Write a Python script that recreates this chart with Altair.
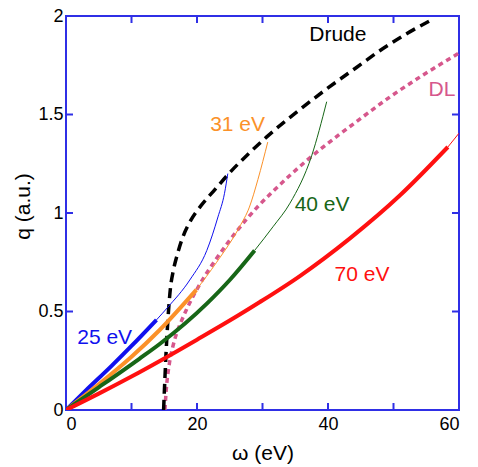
import altair as alt
import pandas as pd

# ---- data ----
series_names = ["25 eV", "31 eV", "40 eV", "70 eV", "Drude", "DL"]
series_colors = ["#1010ee", "#fb9129", "#176617", "#ff1010", "#000000", "#d6578c"]

# thick (solid) parts
b25_x = [0, 3, 7, 10, 13.8]
b25_y = [0, 0.098, 0.225, 0.325, 0.457]
o31_x = [0, 5, 10, 14.3, 19.9]
o31_y = [0, 0.13, 0.27, 0.406, 0.61]
g40_x = [0, 5, 11.2, 14.3, 21.5, 25, 28.8]
g40_y = [0, 0.115, 0.26, 0.335, 0.54, 0.66, 0.81]
r70_x = [0, 5, 10, 14.8, 20, 26.2, 29.6, 35.7, 43.3, 51, 58.3]
r70_y = [0, 0.083, 0.17, 0.258, 0.357, 0.478, 0.548, 0.68, 0.87, 1.09, 1.335]

# thin continuations
b25t_x = [13.8, 15.5, 18.9, 21.5, 23.2, 24.2, 24.7]
b25t_y = [0.457, 0.52, 0.66, 0.81, 0.98, 1.10, 1.20]
o31t_x = [19.9, 23, 26.5, 28, 29.3, 30.8]
o31t_y = [0.61, 0.75, 0.93, 1.03, 1.17, 1.36]
g40t_x = [28.8, 31.6, 34.2, 37.5, 39.8]
g40t_y = [0.81, 0.93, 1.05, 1.29, 1.565]
r70t_x = [58.3, 60]
r70t_y = [1.335, 1.405]

drude_x = [14.9, 15.1, 15.32, 15.6, 15.95, 16.4, 17.0, 17.86, 19.0, 20.67, 22.5,
           25.0, 28.0, 30.6, 35.7, 39.8, 44.4, 48.4, 52.0, 55.8]
drude_y = [0, 0.16, 0.32, 0.48, 0.62, 0.71, 0.79, 0.88, 0.96, 1.04, 1.11,
           1.205, 1.305, 1.385, 1.525, 1.63, 1.74, 1.835, 1.91, 1.98]

dl_x = [15.1, 15.3, 15.8, 16.3, 17.0, 17.6, 18.4, 20.2, 23.0, 26.0, 29.5, 31.6,
        36.7, 41.8, 44.6, 49.5, 54.5, 59.9]
dl_y = [0, 0.1, 0.24, 0.32, 0.40, 0.45, 0.51, 0.625, 0.77, 0.905, 1.04, 1.11,
        1.265, 1.40, 1.47, 1.59, 1.70, 1.81]

label_text = ["25 eV", "31 eV", "40 eV", "70 eV", "Drude", "DL"]
label_x = [5.9, 26.2, 39.1, 45.2, 41.5, 57.4]
label_y = [0.365, 1.447, 1.04, 0.685, 1.904, 1.624]

x_ticks = [0, 10, 20, 30, 40, 50, 60]
x_labels = [0, 20, 40, 60]
y_ticks = [0, 0.5, 1, 1.5, 2]

# ---- build tables ----
def frame(name, xs, ys):
    return pd.DataFrame({"s": name, "x": xs, "y": ys, "o": range(len(xs))})

thick = pd.concat([frame("25 eV", b25_x, b25_y), frame("31 eV", o31_x, o31_y),
                   frame("40 eV", g40_x, g40_y), frame("70 eV", r70_x, r70_y)])
thin = pd.concat([frame("25 eV", b25t_x, b25t_y), frame("31 eV", o31t_x, o31t_y),
                  frame("40 eV", g40t_x, g40t_y), frame("70 eV", r70t_x, r70t_y)])
drude = frame("Drude", drude_x, drude_y)
dl = frame("DL", dl_x, dl_y)
labels = pd.DataFrame({"s": label_text, "x": label_x, "y": label_y})

W, H = 393, 394
FRAME = "#2f2fe6"
FONT = "Liberation Sans"

xs = alt.Scale(domain=[0, 60], nice=False, zero=False)
ys = alt.Scale(domain=[0, 2], nice=False, zero=False)
cs = alt.Scale(domain=series_names, range=series_colors)

X = alt.X("x:Q", scale=xs,
          axis=alt.Axis(values=x_labels, ticks=False, domain=False, grid=False,
                        labelFontSize=18, labelPadding=5, labelColor="black",
                        labelFont=FONT, title="ω (eV)", titleFontSize=21,
                        titleFont=FONT, titleFontWeight="normal",
                        titleY=32, titleBaseline="top",
                        titleColor="black"))
Y = alt.Y("y:Q", scale=ys,
          axis=alt.Axis(values=y_ticks, format="~g", ticks=False, domain=False,
                        grid=False, labelFontSize=18, labelPadding=3,
                        labelColor="black", labelFont=FONT, title="q (a.u.)",
                        titleFontSize=21, titleFont=FONT,
                        titleFontWeight="normal", titleX=-33, titleY=H / 2 - 7,
                        titleColor="black"))
C = alt.Color("s:N", scale=cs, legend=None)

thin_layer = alt.Chart(thin).mark_line(strokeWidth=1, interpolate="monotone", clip=True).encode(
    x=X, y=Y, color=C, detail="s:N", order="o:Q")
thick_layer = alt.Chart(thick).mark_line(strokeWidth=4, interpolate="monotone", clip=True).encode(
    x=X, y=Y, color=C, detail="s:N", order="o:Q")
drude_layer = alt.Chart(drude).mark_line(strokeWidth=3.5, strokeDash=[10, 6],
                                         interpolate="monotone", clip=True).encode(
    x=X, y=Y, color=C, order="o:Q")
dl_layer = alt.Chart(dl).mark_line(strokeWidth=3.5, strokeDash=[5, 4],
                                   interpolate="monotone", clip=True).encode(
    x=X, y=Y, color=C, order="o:Q")
text_layer = alt.Chart(labels).mark_text(fontSize=21, font=FONT, align="center",
                                         baseline="middle").encode(
    x=X, y=Y, color=C, text="s:N")

xt = pd.DataFrame({"x": x_ticks})
yt = pd.DataFrame({"y": y_ticks})
tick_bottom = alt.Chart(xt).mark_rule(color=FRAME, strokeWidth=2).encode(
    x=alt.X("x:Q", scale=xs), y=alt.value(H), y2=alt.value(H - 7))
tick_top = alt.Chart(xt).mark_rule(color=FRAME, strokeWidth=2).encode(
    x=alt.X("x:Q", scale=xs), y=alt.value(0), y2=alt.value(7))
tick_left = alt.Chart(yt).mark_rule(color=FRAME, strokeWidth=2).encode(
    y=alt.Y("y:Q", scale=ys), x=alt.value(0), x2=alt.value(7))
tick_right = alt.Chart(yt).mark_rule(color=FRAME, strokeWidth=2).encode(
    y=alt.Y("y:Q", scale=ys), x=alt.value(W), x2=alt.value(W - 7))

chart = alt.layer(
    tick_bottom, tick_top, tick_left, tick_right,
    dl_layer, drude_layer, thin_layer, thick_layer, text_layer
).properties(
    width=W, height=H,
    background="white",
    autosize=alt.AutoSizeParams(type="none"),
    padding={"left": 58, "top": 8, "right": 11, "bottom": 57},
).configure_view(
    stroke=FRAME, strokeWidth=2
)

chart.save("out.html", embed_options={"renderer": "svg", "actions": False})
